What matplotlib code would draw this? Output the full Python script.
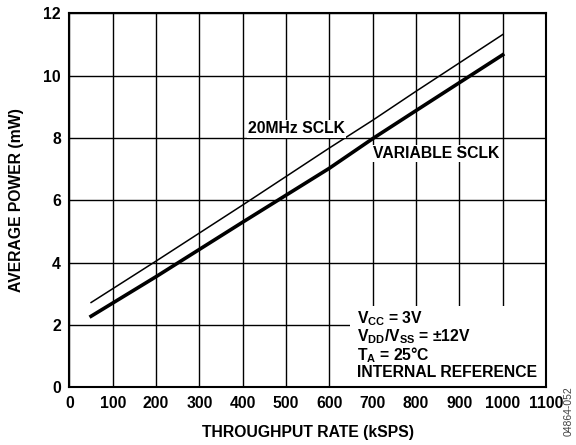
import matplotlib
matplotlib.use("Agg")
from matplotlib import pyplot as plt
from matplotlib.patches import Rectangle

plt.rcParams['font.family'] = ['Liberation Sans', 'DejaVu Sans']
plt.rcParams['font.weight'] = 'bold'
plt.rcParams['mathtext.fontset'] = 'custom'
plt.rcParams['mathtext.rm'] = 'Liberation Sans:bold'
plt.rcParams['mathtext.bf'] = 'Liberation Sans:bold'
plt.rcParams['mathtext.it'] = 'Liberation Sans:bold'

# throughput rate (kSPS) vs average power (mW)
rate = [50, 200, 400, 600, 700, 800, 1000]
power_20mhz = [2.72, 4.05, 5.85, 7.68, 8.57, 9.50, 11.32]
power_variable = [2.28, 3.55, 5.30, 7.03, 7.98, 8.88, 10.67]

x_ticks = list(range(0, 1200, 100))
y_ticks = list(range(0, 14, 2))

notes = [r'$\mathbf{V_{CC}}$ = 3V',
         r'$\mathbf{V_{DD}/V_{SS}}$ = ±12V',
         r'$\mathbf{T_{A}}$ = 25°C',
         'INTERNAL REFERENCE']


def main():
    fig = plt.figure(figsize=(5.76, 4.45), dpi=100)
    ax = fig.add_axes([0.1205, 0.1297, 0.8275, 0.8403])

    ax.set_xlim(0, 1100)
    ax.set_ylim(0, 12)
    ax.set_xticks(x_ticks)
    ax.set_yticks(y_ticks)
    ax.tick_params(length=0, labelsize=11.3, pad=6)
    ax.grid(True, color='black', linewidth=1.0)
    ax.set_axisbelow(True)
    for s in ax.spines.values():
        s.set_linewidth(1.5)

    ax.plot(rate, power_20mhz, color='black', linewidth=1.1, zorder=3)
    ax.plot(rate, power_variable, color='black', linewidth=2.6, zorder=3)

    # white box in lower right for conditions
    ax.add_patch(Rectangle((648, 0), 452, 2.6, facecolor='white',
                           edgecolor='none', zorder=2))

    ax.text(412, 8.3, '20MHz SCLK', fontsize=11.3, fontweight='bold', va='center',
            bbox=dict(facecolor='white', edgecolor='none', pad=1), zorder=4)
    ax.text(700, 7.5, 'VARIABLE SCLK', fontsize=11.3, fontweight='bold', va='center',
            bbox=dict(facecolor='white', edgecolor='none', pad=1), zorder=4)

    ys = [2.2, 1.64, 1.04, 0.48]
    for t, y in zip(notes, ys):
        ax.text(663, y, t, fontsize=11.3, fontweight='bold', va='center', zorder=5)

    ax.set_xlabel('THROUGHPUT RATE (kSPS)', fontsize=11.3, fontweight='bold', labelpad=10)
    ax.set_ylabel('AVERAGE POWER (mW)', fontsize=11.3, fontweight='bold', labelpad=14)

    fig.text(0.988, 0.075, '04864-052', rotation=90, fontsize=7.5, color='#444444',
             fontweight='normal', ha='center', va='center')

    fig.savefig('out.png', dpi=100)


if __name__ == '__main__':
    main()
